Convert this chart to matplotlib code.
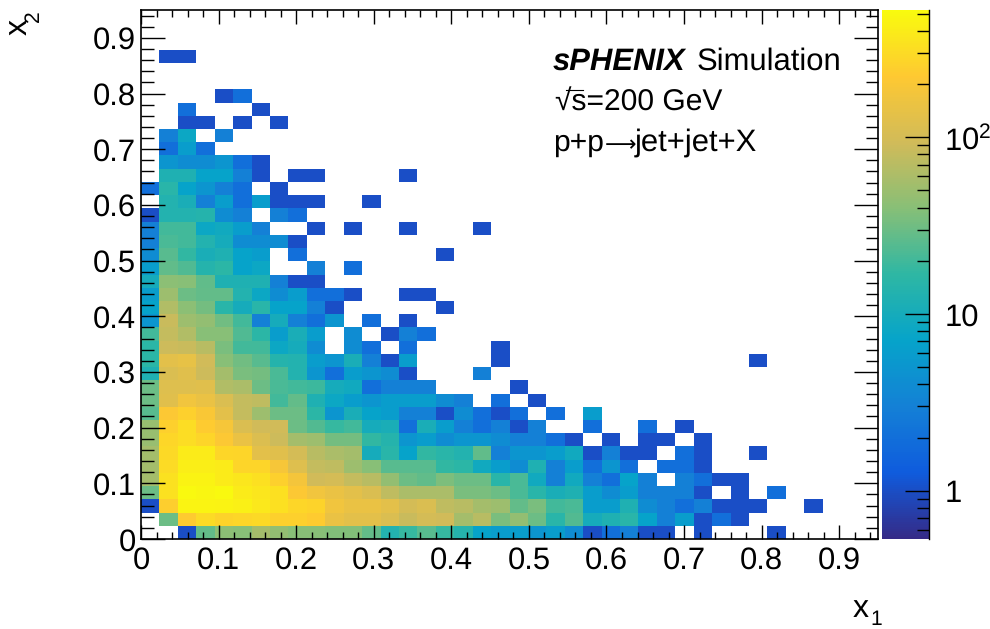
import numpy as np
import matplotlib
matplotlib.use("Agg")
import matplotlib.pyplot as plt
from matplotlib.colors import LinearSegmentedColormap, LogNorm
from matplotlib.ticker import MultipleLocator, LogLocator, NullFormatter

plt.rcParams['font.family'] = ['Liberation Sans', 'DejaVu Sans']
plt.rcParams['mathtext.fontset'] = 'custom'
plt.rcParams['mathtext.rm'] = 'Liberation Sans'
plt.rcParams['mathtext.it'] = 'Liberation Sans:italic'
plt.rcParams['mathtext.bf'] = 'Liberation Sans:bold'
plt.rcParams['text.hinting'] = 'no_hinting'
plt.rcParams['text.hinting_factor'] = 1

# counts per bin, first list is the bottom row, 0 = empty bin
counts = [
    [0,0,1,28,42,40,55,45,40,40,38,38,28,13,18,25,18,14,7,6,6,5,6,4,1,2,3,1,1,0,1,0,0,0,1],
    [0,30,230,300,260,280,290,250,250,230,150,130,130,110,85,100,95,55,70,35,45,30,15,24,10,12,15,7,3,6,1,2,1],
    [1,240,470,470,450,430,370,330,280,260,170,150,150,130,100,110,75,70,55,50,28,35,20,22,6,6,12,4,3,2,3,1,1,1,0,0,1],
    [30,340,500,480,500,400,360,330,210,170,150,130,110,75,60,60,60,35,35,30,22,15,11,12,6,4,6,3,3,3,1,0,1,0,2],
    [55,340,450,450,400,360,330,250,180,95,100,80,70,45,30,27,36,30,30,15,22,9,3,9,3,2,7,3,0,3,2,1,1],
    [55,300,420,420,400,270,270,190,120,80,75,50,40,25,25,25,17,16,9,6,4,12,3,6,2,5,2,0,2,2,1],
    [55,290,400,390,280,270,130,125,100,70,60,55,10,15,7,17,15,13,27,3,5,5,6,9,1,3,1,1,0,2,1,0,0,1],
    [48,280,310,270,210,150,115,90,55,50,33,33,17,14,5,6,4,5,5,4,3,3,2,1,0,1,0,1,1,0,1],
    [48,250,310,230,190,110,95,95,30,24,18,20,10,11,2,11,6,3,2,3,1,3,0,0,2,0,0,2,0,1],
    [25,210,250,200,130,80,50,30,30,16,5,11,7,6,3,3,1,4,2,1,2,0,2,0,6],
    [30,125,170,150,110,80,75,20,28,12,8,6,5,6,6,6,4,3,0,2,0,1],
    [30,120,120,125,65,60,30,22,20,19,10,9,2,3,3,3,0,0,0,0,1],
    [12,110,125,90,55,35,33,22,13,5,2,6,5,4,1,0,0,0,3],
    [16,130,140,95,40,32,25,14,13,6,5,11,3,1,6,0,0,0,0,1,0,0,0,0,0,0,0,0,0,0,0,0,0,1],
    [16,90,85,70,35,20,20,8,10,4,0,4,2,0,2,0,0,0,0,1],
    [20,80,65,40,40,23,16,6,11,6,0,4,0,1,3,2],
    [5,85,50,45,32,20,3,10,3,2,5,0,2,0,1],
    [7,65,42,33,15,10,15,7,7,3,1,0,0,0,0,0,1],
    [6,50,30,28,28,13,8,4,6,2,2,1,0,0,1,1],
    [10,42,40,27,12,12,12,3,1,1],
    [6,27,23,14,16,7,8,0,0,3,0,2],
    [4,25,17,11,12,7,6,0,2,0,0,0,0,0,0,0,1],
    [3,22,20,13,10,4,4,4,1],
    [3,20,20,8,9,6,3,0,0,1,0,1,0,0,1,0,0,0,1],
    [1,13,13,14,4,3,0,3,2],
    [0,13,11,3,6,2,6,1,1,1,0,0,1],
    [2,15,7,5,3,2,0,1],
    [0,12,12,7,7,3,1,0,1,1,0,0,0,0,1],
    [0,5,4,4,5,2,1],
    [0,2,6,2],
    [0,3,8,0,3],
    [0,0,1,1,0,1,0,1],
    [0,0,2,0,0,0,1],
    [0,0,0,0,1,2],
    [],
    [],
    [0,1,1],
]

x_ticks = [0, 0.1, 0.2, 0.3, 0.4, 0.5, 0.6, 0.7, 0.8, 0.9]
x_ticklabels = ['0', '0.1', '0.2', '0.3', '0.4', '0.5', '0.6', '0.7', '0.8', '0.9']
cbar_ticks = [1, 10, 100]
cbar_ticklabels = ['1', '10', r'$\mathregular{10^{2}}$']

# ROOT kBird palette
bird_stops = [0.0, 0.125, 0.25, 0.375, 0.5, 0.625, 0.75, 0.875, 1.0]
bird_r = [0.2082, 0.0592, 0.0780, 0.0232, 0.1802, 0.5301, 0.8186, 0.9956, 0.9764]
bird_g = [0.1664, 0.3599, 0.5041, 0.6419, 0.7178, 0.7492, 0.7328, 0.7862, 0.9832]
bird_b = [0.5293, 0.8684, 0.8385, 0.7914, 0.6425, 0.4662, 0.3499, 0.1968, 0.0539]
bird = LinearSegmentedColormap.from_list(
    'bird', list(zip(bird_stops, zip(bird_r, bird_g, bird_b))), N=255)
bird.set_bad('white')

nbins = 40
edges = np.linspace(0, 0.95, nbins + 1)
grid = np.zeros((nbins, nbins))
for i, row in enumerate(counts):
    grid[i, :len(row)] = row
grid = np.ma.masked_equal(grid, 0)

W, H = 990, 629
fig = plt.figure(figsize=(W / 100, H / 100), dpi=100)
ax = fig.add_axes([141 / W, 1 - 539 / H, 737 / W, 529 / H])
cax = fig.add_axes([882 / W, 1 - 539 / H, 47 / W, 529 / H])

mesh = ax.pcolormesh(edges, edges, grid, cmap=bird, norm=LogNorm(vmin=0.533, vmax=525))

ax.set_xlim(0, 0.95)
ax.set_ylim(0, 0.95)
ax.set_xticks(x_ticks)
ax.set_xticklabels(x_ticklabels)
ax.set_yticks(x_ticks)
ax.set_yticklabels(x_ticklabels)
ax.xaxis.set_minor_locator(MultipleLocator(0.02))
ax.yaxis.set_minor_locator(MultipleLocator(0.02))
ax.tick_params(axis='x', which='major', direction='in', top=True, length=10, width=1, labelsize=22, pad=5.5)
ax.tick_params(axis='x', which='minor', direction='in', top=True, length=5, width=1)
ax.tick_params(axis='y', which='major', direction='in', right=True, length=17.5, width=1, labelsize=22, pad=3.5)
ax.tick_params(axis='y', which='minor', direction='in', right=True, length=9, width=1)
for s in ax.spines.values():
    s.set_linewidth(1.2)

cb = fig.colorbar(mesh, cax=cax)
cb.set_ticks(cbar_ticks, labels=cbar_ticklabels)
cax.yaxis.set_minor_locator(LogLocator(base=10, subs=[2, 3, 4, 5, 6, 7, 8, 9], numticks=12))
cax.yaxis.set_minor_formatter(NullFormatter())
cax.tick_params(axis='y', which='major', direction='in', length=17.5, width=1, labelsize=22, pad=11)
cax.tick_params(axis='y', which='minor', direction='in', length=9, width=1)
cb.outline.set_visible(False)
cax.spines['right'].set_visible(True)
cax.spines['right'].set_linewidth(1)


def put(px, py, s, **kw):
    # place text by pixel position in the image
    fig.text(px / W, 1 - py / H, s, va='baseline', **kw)


put(853, 617, 'x', fontsize=23)
put(870, 625, '1', fontsize=15)
put(27, 35, 'x', fontsize=23, rotation=90, rotation_mode='anchor', ha='left')
put(39, 22, '2', fontsize=15, rotation=90, rotation_mode='anchor', ha='left')

put(553, 70, 'sPHENIX', fontsize=22.4, fontweight='bold', fontstyle='italic')
put(697, 70, 'Simulation', fontsize=22.3)
put(555, 111, '\u221as=200 GeV', fontsize=21.5)
fig.add_artist(plt.Line2D([566 / W, 583 / W], [1 - 89.5 / H, 1 - 89.5 / H], color='black', lw=0.8))
put(553, 151, 'p+p', fontsize=21.5)
put(605, 151, '\u27f6', fontsize=15.5)
put(635, 151, 'jet+jet+X', fontsize=22)

fig.savefig('out.png', dpi=100)
